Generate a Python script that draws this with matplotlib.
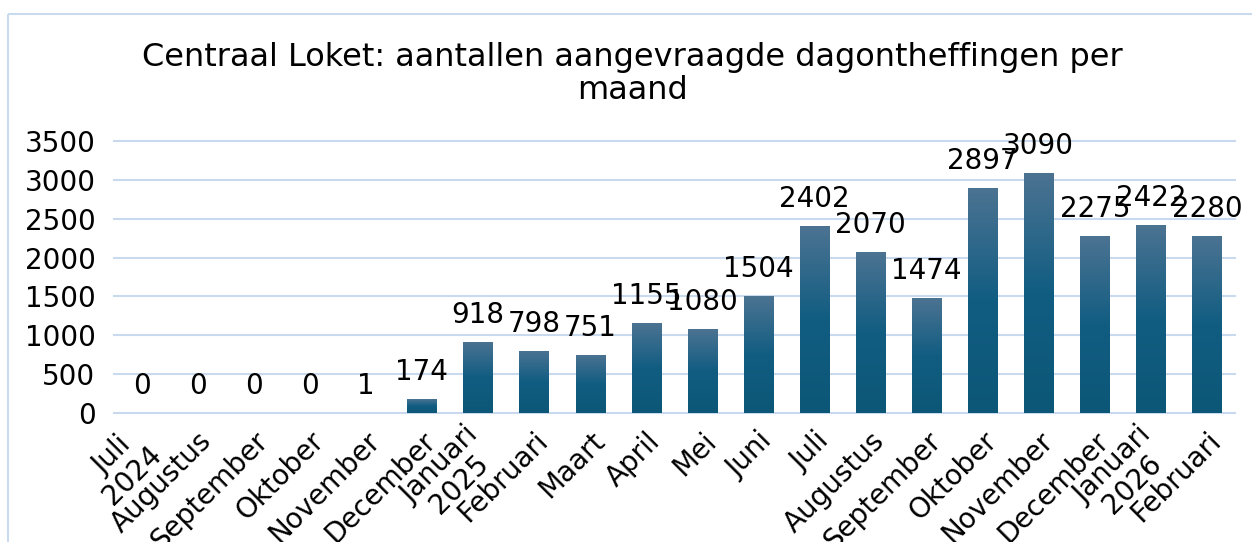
import matplotlib
matplotlib.use("Agg")
import matplotlib.pyplot as plt
import numpy as np
from matplotlib.colors import LinearSegmentedColormap
from matplotlib.patches import Rectangle
from matplotlib.transforms import offset_copy

title = "Centraal Loket: aantallen aangevraagde dagontheffingen per\nmaand"
categories = ["Juli\n2024", "Augustus", "September", "Oktober", "November", "December",
              "Januari\n2025", "Februari", "Maart", "April", "Mei", "Juni", "Juli",
              "Augustus", "September", "Oktober", "November", "December",
              "Januari\n2026", "Februari"]
values = [0, 0, 0, 0, 1, 174, 918, 798, 751, 1155, 1080, 1504, 2402, 2070, 1474,
          2897, 3090, 2275, 2422, 2280]
yticks = [0, 500, 1000, 1500, 2000, 2500, 3000, 3500]

W, H = 1252, 542
fig = plt.figure(figsize=(W / 100, H / 100), dpi=100)
grid_c = "#c9d9ee"

# outer border
fig.patches.append(Rectangle((8 / W, 1 - 14 / H), 2.0, -2.0, transform=fig.transFigure,
                             fill=False, edgecolor=grid_c, linewidth=1.5, zorder=0))

ax = fig.add_axes([113.5 / W, 1 - 413 / H, (1235 - 113.5) / W, (413 - 141) / H])
x = np.arange(len(values))
cmap = LinearSegmentedColormap.from_list("g", [(0.0, "#0c5777"), (0.5, "#115d82"), (1.0, "#4c7392")])
grad = np.linspace(0, 1, 256).reshape(-1, 1)
w = 0.52
bars = ax.bar(x, values, width=w, color="none", edgecolor="none", zorder=2)
for xi, v, b in zip(x, values, bars):
    im = ax.imshow(grad, extent=[xi - w / 2, xi + w / 2, 0, max(v, 1e-9)], aspect="auto",
                   cmap=cmap, origin="lower", zorder=2, interpolation="bilinear")
    im.set_clip_path(b)
    ax.annotate(str(v), (xi, v), xytext=(0, 19.5), textcoords="offset points",
                ha="center", va="center", fontsize=20, color="black", zorder=3)

ax.set_xlim(-0.5, len(values) - 0.5)
ax.set_ylim(0, 3500)
ax.set_yticks(yticks)
ax.set_yticklabels([str(t) for t in yticks], fontsize=20)
ax.set_xticks(x)
ax.set_xticklabels(categories, fontsize=20, rotation=45, ha="right", va="top",
                   rotation_mode="anchor", multialignment="center", linespacing=1.0)
ax.tick_params(axis="both", length=0)
ax.tick_params(axis="y", pad=13)
ax.tick_params(axis="x", pad=10)
for s in ax.spines.values():
    s.set_visible(False)
ax.grid(axis="y", color=grid_c, linewidth=1.5, zorder=1)
ax.set_axisbelow(True)
for gl in ax.get_ygridlines():
    gl.set_clip_on(False)

for lab in ax.get_xticklabels():
    if "\n" in lab.get_text():
        lab.set_transform(offset_copy(lab.get_transform(), fig=fig, x=-14, y=6, units="dots"))

fig.text(0.505, 1 - 74 / H, title, ha="center", va="center", fontsize=23, linespacing=1.05)

fig.savefig("out.png", dpi=100)
